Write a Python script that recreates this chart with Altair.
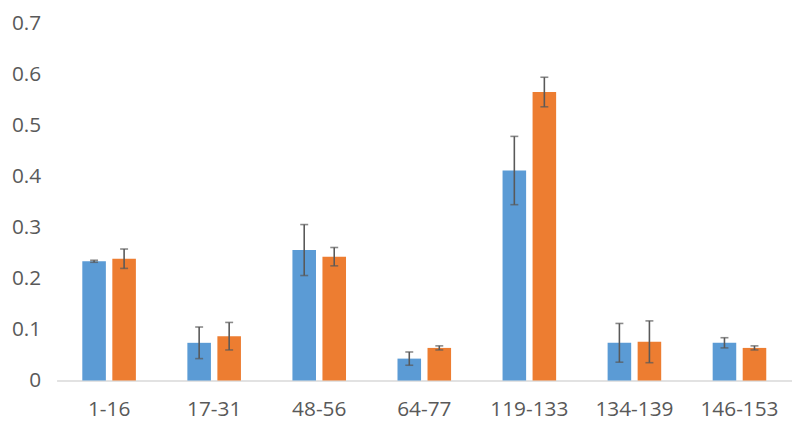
import altair as alt
import pandas as pd

categories = ["1-16", "17-31", "48-56", "64-77", "119-133", "134-139", "146-153"]
series_a = [0.234, 0.074, 0.256, 0.043, 0.412, 0.074, 0.074]
err_a = [0.002, 0.031, 0.050, 0.013, 0.067, 0.038, 0.010]
series_b = [0.239, 0.087, 0.243, 0.064, 0.566, 0.076, 0.064]
err_b = [0.019, 0.027, 0.018, 0.004, 0.029, 0.041, 0.004]

rows = []
for i, c in enumerate(categories):
    rows.append({"cat": c, "series": "A", "value": series_a[i],
                 "lo": series_a[i] - err_a[i], "hi": series_a[i] + err_a[i]})
    rows.append({"cat": c, "series": "B", "value": series_b[i],
                 "lo": series_b[i] - err_b[i], "hi": series_b[i] + err_b[i]})
df = pd.DataFrame(rows)

font = "Open Sans"
x_enc = alt.X("cat:N", sort=categories, title=None,
              scale=alt.Scale(paddingInner=0.49, paddingOuter=0.245),
              axis=alt.Axis(labelAngle=0, labelFontSize=21, labelColor="#595959",
                            labelFont=font, ticks=False, domainColor="#d9d9d9",
                            domainWidth=1.5, labelPadding=18))
xoff = alt.XOffset("series:N", scale=alt.Scale(paddingInner=0.215, paddingOuter=0))

base = alt.Chart(df).encode(x=x_enc, xOffset=xoff)

bars = base.mark_bar().encode(
    y=alt.Y("value:Q", title=None,
            scale=alt.Scale(domain=[0, 0.7], nice=False),
            axis=alt.Axis(values=[0, 0.1, 0.2, 0.3, 0.4, 0.5, 0.6, 0.7], format=".1~f",
                          grid=False, domain=False, ticks=False, labelFontSize=21,
                          labelColor="#595959", labelFont=font, labelPadding=16)),
    color=alt.Color("series:N", legend=None,
                    scale=alt.Scale(domain=["A", "B"], range=["#5b9bd5", "#ed7d31"])),
)

rules = base.mark_rule(color="#595959", strokeWidth=1.6).encode(
    y="lo:Q", y2="hi:Q")
cap_lo = base.mark_tick(color="#595959", thickness=1.6, size=8, orient="horizontal").encode(y="lo:Q")
cap_hi = base.mark_tick(color="#595959", thickness=1.6, size=8, orient="horizontal").encode(y="hi:Q")

chart = alt.layer(bars, rules, cap_lo, cap_hi).properties(
    width=742, height=360,
    autosize=alt.AutoSizeParams(type="none"),
    padding={"left": 49, "top": 14, "right": 0, "bottom": 43},
).configure(background="white").configure_view(stroke=None)

chart.save("out.html", embed_options={"renderer": "svg", "actions": False})
